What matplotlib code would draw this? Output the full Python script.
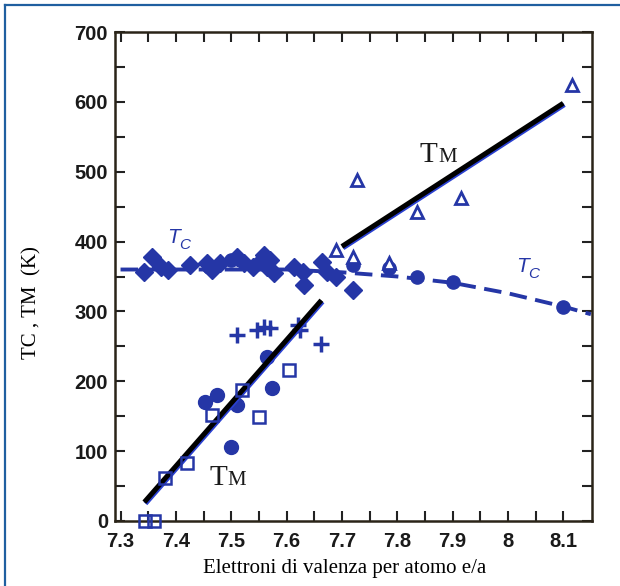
import matplotlib
matplotlib.use("Agg")
import matplotlib.pyplot as plt
import matplotlib.patheffects as pe
from matplotlib.lines import Line2D
from matplotlib.transforms import offset_copy

BLUE = "#2536a6"

# Tc data: filled diamonds
tc_dia_x = [7.343, 7.356, 7.374, 7.385, 7.425, 7.457, 7.465, 7.48, 7.51, 7.524, 7.54,
            7.56, 7.565, 7.57, 7.578, 7.614, 7.63, 7.632, 7.664, 7.673, 7.69, 7.72]
tc_dia_y = [356, 378, 364, 359, 366, 369, 360, 369, 378, 369, 364,
            381, 364, 374, 355, 364, 356, 338, 371, 356, 350, 330]
# Tc data: filled circles
tc_cir_x = [7.46, 7.50, 7.55, 7.72, 7.786, 7.836, 7.90, 8.10]
tc_cir_y = [364, 374, 370, 366, 362, 349, 342, 307]
# TM data: open triangles
tm_tri_x = [7.69, 7.72, 7.728, 7.786, 7.836, 7.915, 8.116]
tm_tri_y = [388, 378, 488, 369, 442, 462, 624]
# TM data: filled circles
tm_cir_x = [7.452, 7.475, 7.51, 7.50, 7.565, 7.573]
tm_cir_y = [170, 180, 166, 106, 235, 190]
# TM data: open squares
tm_sq_x = [7.345, 7.36, 7.38, 7.42, 7.465, 7.52, 7.55, 7.605]
tm_sq_y = [0, 0, 62, 83, 152, 187, 149, 216]
# TM data: plus markers
tm_pl_x = [7.51, 7.547, 7.56, 7.57, 7.62, 7.625, 7.663]
tm_pl_y = [266, 273, 278, 276, 281, 273, 254]
# fitted lines
fit_lo_x = [7.343, 7.663]
fit_lo_y = [27, 316]
fit_hi_x = [7.70, 8.10]
fit_hi_y = [393, 598]
# Tc dashed curve
tc_curve_x = [7.30, 7.60, 7.70, 7.80, 7.90, 8.00, 8.10, 8.15]
tc_curve_y = [360, 360, 356, 350, 341, 326, 307, 296]

x_ticks = [7.3, 7.4, 7.5, 7.6, 7.7, 7.8, 7.9, 8.0, 8.1]
x_labels = ["7.3", "7.4", "7.5", "7.6", "7.7", "7.8", "7.9", "8", "8.1"]
y_ticks = [0, 100, 200, 300, 400, 500, 600, 700]

fig = plt.figure(figsize=(6.2, 5.86), dpi=100)
ax = fig.add_axes([115/620, 1-521/586, (592-115)/620, (521-32)/586])

# figure border (left and top)
fig.add_artist(Line2D([5/620, 5/620], [0, 1-5/586], color="#1f5fa0", lw=1.6, transform=fig.transFigure))
fig.add_artist(Line2D([5/620, 1], [1-5/586, 1-5/586], color="#1f5fa0", lw=1.6, transform=fig.transFigure))

ax.plot(tc_curve_x, tc_curve_y, color=BLUE, lw=2.8, dashes=(4.5, 2.2), zorder=2, clip_on=False)

shadow = [pe.Stroke(offset=(0.8, -1.0), linewidth=3.6, foreground="#2a40d0"), pe.Normal()]
ax.plot(fit_lo_x, fit_lo_y, color="black", lw=3.6, zorder=4, path_effects=shadow, solid_capstyle="butt")
ax.plot(fit_hi_x, fit_hi_y, color="black", lw=3.6, zorder=4, path_effects=shadow, solid_capstyle="butt")

ax.plot(tc_dia_x, tc_dia_y, "D", color=BLUE, ms=9, ls="none", zorder=3)
ax.plot(tc_cir_x, tc_cir_y, "o", color=BLUE, ms=9.5, ls="none", zorder=3)
ax.plot(tm_tri_x, tm_tri_y, "^", mfc="white", mec=BLUE, mew=2, ms=9, ls="none", zorder=5)
ax.plot(tm_cir_x, tm_cir_y, "o", color=BLUE, ms=10, ls="none", zorder=3)
ax.plot(tm_sq_x, tm_sq_y, "s", mfc="none", mec=BLUE, mew=1.8, ms=9, ls="none", zorder=5, clip_on=False)
ax.plot(tm_pl_x, tm_pl_y, "+", color=BLUE, mew=2.5, ms=11, ls="none", zorder=3)

ax.set_xlim(7.29, 8.152)
ax.set_ylim(0, 700)
ax.set_xticks(x_ticks)
ax.set_xticklabels(x_labels)
ax.set_xticks([7.35 + 0.1*i for i in range(8)], minor=True)
ax.set_yticks(y_ticks)
ax.set_yticks([50 + 100*i for i in range(7)], minor=True)
ax.tick_params(which="both", direction="in", top=True, right=True, width=1.5, color="#222222")
ax.tick_params(which="major", length=7)
ax.tick_params(which="minor", length=7)
ax.tick_params(axis="both", labelsize=14.5)
ax.tick_params(axis="x", pad=8)
ax.tick_params(axis="y", pad=5)
for lab in ax.get_xticklabels() + ax.get_yticklabels():
    lab.set_fontfamily("Liberation Sans")
    lab.set_fontweight("bold")
    lab.set_color("#1a1a1a")
for s in ax.spines.values():
    s.set_linewidth(1.8)
    s.set_color("#2a2418")

ax.set_xlabel("Elettroni di valenza per atomo e/a", family="Liberation Serif", fontsize=15)
ax.xaxis.set_label_coords(0.482, -0.077)
ax.set_ylabel("TC , TM  (K)", family="Liberation Serif", fontsize=15)
ax.yaxis.set_label_coords(-0.155, 0.446)

# TM labels with small-caps M
for (xx, yy) in [(7.84, 514), (7.46, 51)]:
    t = ax.text(xx, yy, "T", family="Liberation Serif", fontsize=21, color="#1a1a1a", ha="left", va="baseline", zorder=6)
    tr = offset_copy(ax.transData, fig=fig, x=13.5, y=0, units="points")
    ax.text(xx, yy, "M", family="Liberation Serif", fontsize=15, color="#1a1a1a", ha="left", va="baseline", transform=tr, zorder=6)

# Tc labels
for (xx, yy) in [(7.385, 398), (8.015, 356)]:
    ax.text(xx, yy, "T", family="Liberation Sans", style="italic", fontsize=15, color=BLUE, ha="left", va="baseline")
    tr = offset_copy(ax.transData, fig=fig, x=8.5, y=-4, units="points")
    ax.text(xx, yy, "C", family="Liberation Sans", style="italic", fontsize=11, color=BLUE, ha="left", va="baseline", transform=tr)

fig.savefig("out.png", dpi=100)
